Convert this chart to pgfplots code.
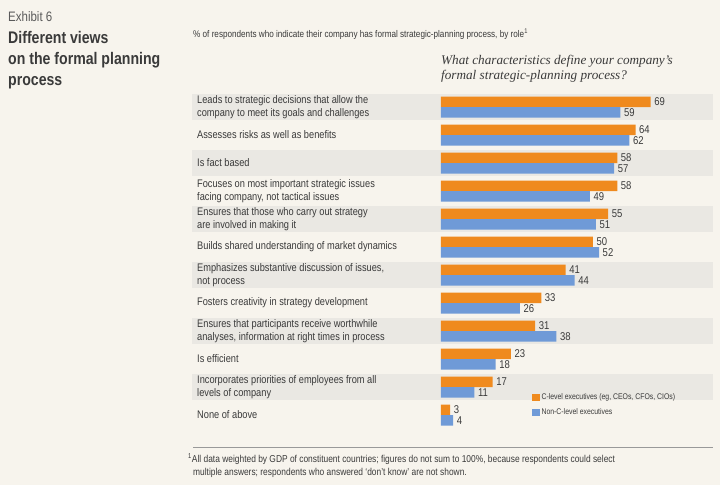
\documentclass[border=0pt]{standalone}
\usepackage{pgfplots}
\pgfplotsset{compat=1.18}
\usepackage{pgfplotstable}
\usepackage{fontspec}
\setmainfont{Liberation Sans}[FakeStretch=0.84]
\newfontfamily\qfont{Liberation Serif}
\definecolor{bg}{HTML}{F7F4ED}
\definecolor{band}{HTML}{EAE8E3}
\definecolor{corange}{HTML}{EF8A1E}
\definecolor{cblue}{HTML}{6F9AD7}
\definecolor{textc}{HTML}{3A3A3A}
\definecolor{exh}{HTML}{5A5A5A}

\pgfplotstableread{
row c n
0 69 59
1 64 62
2 58 57
3 58 49
4 55 51
5 50 52
6 41 44
7 33 26
8 31 38
9 23 18
10 17 11
11 3 4
}\data

\begin{document}
\begin{tikzpicture}
\fill[bg] (0,0) rectangle (720pt,-485pt);
\useasboundingbox (0,0) rectangle (720pt,-485pt);
% alternating row bands
\foreach \r in {0,2,4,6,8,10} {
  \fill[band] (192pt,{-(107+28*\r-12.9)*1pt}) rectangle (713pt,{-(107+28*\r+12.9)*1pt});
}
\node[anchor=base west, inner sep=0, text=exh, font=\fontsize{13.7}{15}\selectfont] at (8pt,-21pt) {Exhibit 6};
\node[anchor=base west, inner sep=0, text=textc, font=\fontsize{16.8}{19}\selectfont\bfseries] at (8pt,-43pt) {Different views};
\node[anchor=base west, inner sep=0, text=textc, font=\fontsize{16.8}{19}\selectfont\bfseries] at (8pt,-64pt) {on the formal planning};
\node[anchor=base west, inner sep=0, text=textc, font=\fontsize{16.8}{19}\selectfont\bfseries] at (8pt,-85pt) {process};
\node[anchor=base west, inner sep=0, text=textc, font=\fontsize{9.7}{11}\selectfont] at (193pt,-37pt) {\% of respondents who indicate their company has formal strategic-planning process, by role\textsuperscript{1}};
\node[anchor=base west, inner sep=0, text=textc, font=\fontsize{13.2}{15}\selectfont\qfont\itshape] at (441pt,-64pt) {What characteristics define your company’s};
\node[anchor=base west, inner sep=0, text=textc, font=\fontsize{13.2}{15}\selectfont\qfont\itshape] at (441pt,-79pt) {formal strategic-planning process?};

\begin{axis}[
  at={(192pt,-429pt)}, anchor=south west,
  scale only axis, width=521pt, height=336pt,
  xmin=-81.9, xmax=89.5, ymin=-0.5, ymax=11.5, y dir=reverse,
  axis line style={draw=none}, xtick=\empty, ytick={0,...,11}, major tick length=0pt,
  yticklabels={
    {Leads to strategic decisions that allow the\\company to meet its goals and challenges},
    {Assesses risks as well as benefits},
    {Is fact based},
    {Focuses on most important strategic issues\\facing company, not tactical issues},
    {Ensures that those who carry out strategy\\are involved in making it},
    {Builds shared understanding of market dynamics},
    {Emphasizes substantive discussion of issues,\\not process},
    {Fosters creativity in strategy development},
    {Ensures that participants receive worthwhile\\analyses, information at right times in process},
    {Is efficient},
    {Incorporates priorities of employees from all\\levels of company},
    {None of above}},
  yticklabel style={anchor=west, align=left, inner sep=0pt, xshift=5pt, text=textc, font=\fontsize{11}{13}\selectfont},
  xbar, bar width=10.5pt, bar shift=0pt,
  clip=false,
  nodes near coords, nodes near coords align={horizontal}, point meta=x,
  every node near coord/.append style={font=\fontsize{11.3}{12}\selectfont, text=textc, inner sep=2pt, xshift=1.5pt},
  /pgf/number format/assume math mode=true,
  legend style={at={(axis cs:29.9,10.17)}, anchor=north west, draw=none, fill=none, inner sep=0pt, row sep=3.5pt,
     font=\fontsize{8.2}{9}\selectfont, text=textc, /tikz/every even column/.style={column sep=4pt}},
  legend cell align=left,
  legend image code/.code={\fill[#1] (0pt,-3.6pt) rectangle (7.5pt,3.6pt);},
]
\addplot[fill=corange, draw=none] table[x=c, y expr=\thisrow{row}-0.1875] {\data};
\addlegendentry{C-level executives (eg, CEOs, CFOs, CIOs)}
\addplot[fill=cblue, draw=none] table[x=n, y expr=\thisrow{row}+0.1875] {\data};
\addlegendentry{Non-C-level executives}
\end{axis}

\draw[black!40, line width=0.6pt] (193pt,-447pt) -- (713pt,-447pt);
\node[anchor=base west, inner sep=0, text=textc, font=\fontsize{10}{11}\selectfont] at (188pt,-462pt) {\textsuperscript{1}All data weighted by GDP of constituent countries; figures do not sum to 100\%, because respondents could select};
\node[anchor=base west, inner sep=0, text=textc, font=\fontsize{10}{11}\selectfont] at (193pt,-475pt) {multiple answers; respondents who answered ‘don’t know’ are not shown.};
\end{tikzpicture}
\end{document}
